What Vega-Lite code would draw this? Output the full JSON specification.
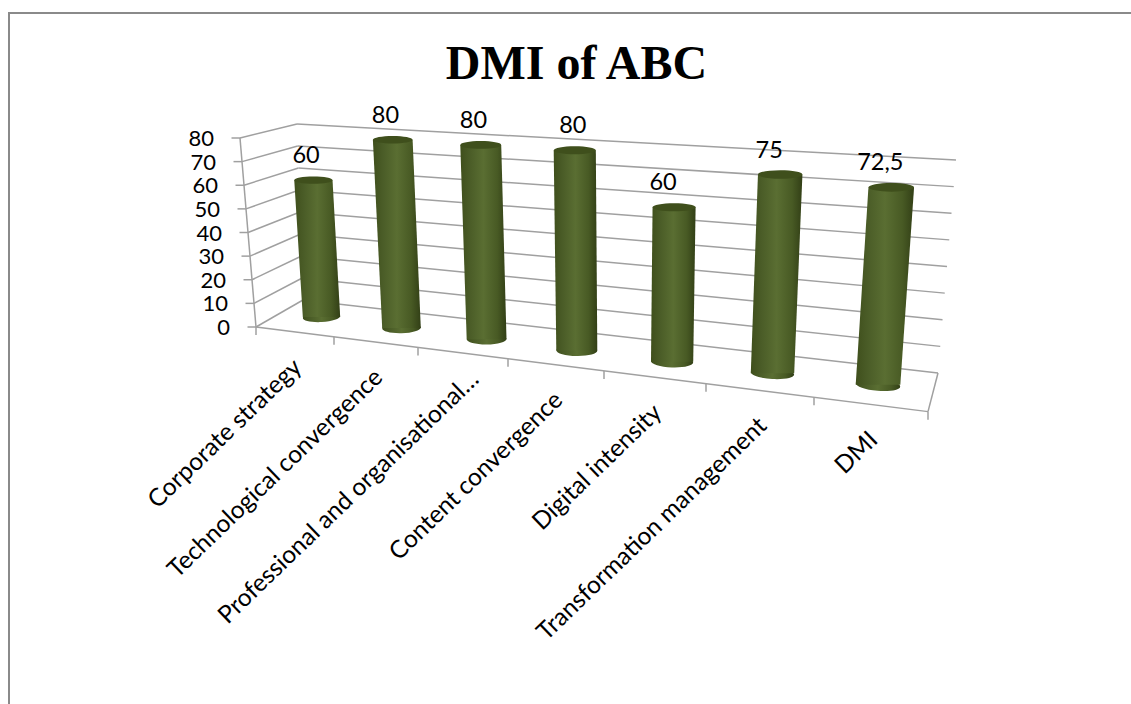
{
"$schema":"https://vega.github.io/schema/vega-lite/v6.json",
"width":1123,"height":692,
"autosize":"none",
"padding":{"left":9,"top":13,"right":0,"bottom":0},
"background":"white",
"config":{"view":{"stroke":"#8a8a8a","strokeWidth":2}},
"title":{"text":"DMI of ABC","font":"Liberation Serif","fontSize":48,"fontWeight":"bold","color":"#000000","anchor":"middle","frame":"group","dy":76,"dx":6,"offset":0},
"datasets":{
"bars":[
{"category":"Corporate strategy","value":60,"label":"60","order":0},
{"category":"Technological convergence","value":80,"label":"80","order":1},
{"category":"Professional and organisational…","value":80,"label":"80","order":2},
{"category":"Content convergence","value":80,"label":"80","order":3},
{"category":"Digital intensity","value":60,"label":"60","order":4},
{"category":"Transformation management","value":75,"label":"75","order":5},
{"category":"DMI","value":72.5,"label":"72,5","order":6}],
"levels":[{"level":0},{"level":10},{"level":20},{"level":30},{"level":40},{"level":50},{"level":60},{"level":70},{"level":80}],
"ticks":[{"tick":0},{"tick":1},{"tick":2},{"tick":3},{"tick":4},{"tick":5},{"tick":6},{"tick":7}]
},
"layer":[
{"data":{"name":"levels"},
 "transform":[{"calculate":"303-0.075*datum.level","as":"ax"},{"calculate":"300-2.2*datum.level","as":"ay"},{"calculate":"938+0.225*datum.level","as":"bx"},{"calculate":"373-2.6625*datum.level","as":"by"}],
 "mark":{"type":"rule","color":"#a0a0a0","strokeWidth":1.5},
 "encoding":{"x":{"field":"ax","type":"quantitative","scale":{"domain":[9,1132],"nice":false,"zero":false},"axis":null},"y":{"field":"ay","type":"quantitative","scale":{"domain":[13,705],"reverse":true,"nice":false,"zero":false},"axis":null},"x2":{"field":"bx"},"y2":{"field":"by"}}},
{"data":{"name":"levels"},
 "transform":[{"calculate":"256-0.2*datum.level","as":"ax"},{"calculate":"327-2.3625*datum.level","as":"ay"},{"calculate":"303-0.075*datum.level","as":"bx"},{"calculate":"300-2.2*datum.level","as":"by"}],
 "mark":{"type":"rule","color":"#a0a0a0","strokeWidth":1.5},
 "encoding":{"x":{"field":"ax","type":"quantitative","axis":null},"y":{"field":"ay","type":"quantitative","axis":null},"x2":{"field":"bx"},"y2":{"field":"by"}}},
{"data":{"name":"levels"},
 "transform":[{"calculate":"256-0.2*datum.level-8.5","as":"ax"},{"calculate":"327-2.3625*datum.level","as":"ay"},{"calculate":"256-0.2*datum.level","as":"bx"}],
 "mark":{"type":"rule","color":"#a0a0a0","strokeWidth":1.5},
 "encoding":{"x":{"field":"ax","type":"quantitative","axis":null},"y":{"field":"ay","type":"quantitative","axis":null},"x2":{"field":"bx"}}},
{"data":{"name":"levels"},
 "transform":[{"filter":"datum.level==80"},{"calculate":"256-0.2*datum.level","as":"ax"},{"calculate":"327-2.3625*datum.level","as":"ay"},{"calculate":"256","as":"bx"},{"calculate":"327","as":"by"}],
 "mark":{"type":"rule","color":"#a0a0a0","strokeWidth":1.5},
 "encoding":{"x":{"field":"ax","type":"quantitative","axis":null},"y":{"field":"ay","type":"quantitative","axis":null},"x2":{"field":"bx"},"y2":{"field":"by"}}},
{"data":{"name":"ticks"},
 "transform":[{"calculate":"256+75*datum.tick+3*datum.tick*datum.tick","as":"ax"},{"calculate":"327+9.5*datum.tick+0.37*datum.tick*datum.tick","as":"ay"},{"calculate":"datum.ay+8","as":"by"}],
 "mark":{"type":"rule","color":"#a0a0a0","strokeWidth":1.5},
 "encoding":{"x":{"field":"ax","type":"quantitative","axis":null},"y":{"field":"ay","type":"quantitative","axis":null},"y2":{"field":"by"}}},
{"data":{"name":"ticks"},
 "transform":[{"filter":"datum.tick==7"},{"calculate":"256+75*datum.tick+3*datum.tick*datum.tick","as":"ax"},{"calculate":"327+9.5*datum.tick+0.37*datum.tick*datum.tick","as":"ay"},{"calculate":"256","as":"bx"},{"calculate":"327","as":"by"}],
 "mark":{"type":"rule","color":"#a0a0a0","strokeWidth":1.5},
 "encoding":{"x":{"field":"ax","type":"quantitative","axis":null},"y":{"field":"ay","type":"quantitative","axis":null},"x2":{"field":"bx"},"y2":{"field":"by"}}},
{"data":{"name":"ticks"},
 "transform":[{"filter":"datum.tick==7"},{"calculate":"256+75*datum.tick+3*datum.tick*datum.tick","as":"ax"},{"calculate":"327+9.5*datum.tick+0.37*datum.tick*datum.tick","as":"ay"},{"calculate":"938","as":"bx"},{"calculate":"373","as":"by"}],
 "mark":{"type":"rule","color":"#a0a0a0","strokeWidth":1.5},
 "encoding":{"x":{"field":"ax","type":"quantitative","axis":null},"y":{"field":"ay","type":"quantitative","axis":null},"x2":{"field":"bx"},"y2":{"field":"by"}}},
{"data":{"name":"levels"},
 "transform":[{"calculate":"256-0.2*datum.level-26","as":"ax"},{"calculate":"328-2.3625*datum.level","as":"ay"}],
 "mark":{"type":"text","font":"Lato","fontSize":22,"align":"right","baseline":"middle","color":"#000000"},
 "encoding":{"x":{"field":"ax","type":"quantitative","axis":null},"y":{"field":"ay","type":"quantitative","axis":null},"text":{"field":"level","type":"quantitative"}}},
{"data":{"name":"bars"},
 "transform":[{"calculate":"321.5+77.45*datum.order+2.55*datum.order*datum.order","as":"cx"},{"calculate":"317+11*datum.order+0.05*datum.order*datum.order","as":"cy"},{"calculate":"pow(2*(18.7+0.6*datum.order),2)","as":"sz"},{"calculate":"-3+1.3*datum.order","as":"tilt"}],
 "mark":{"type":"point","filled":true,"opacity":1,"shape":"M-1,0 A1,0.27 0 1 1 1,0 A1,0.27 0 1 1 -1,0 Z","strokeWidth":0,"color":{"gradient":"linear","x1":0,"x2":1,"y1":0,"y2":0,"stops":[{"offset":0,"color":"#3f4f1c"},{"offset":0.2,"color":"#4a5c27"},{"offset":0.5,"color":"#5a6e32"},{"offset":0.8,"color":"#485a24"},{"offset":1,"color":"#323f16"}]}},
 "encoding":{"x":{"field":"cx","type":"quantitative","axis":null},"y":{"field":"cy","type":"quantitative","axis":null},"size":{"field":"sz","type":"quantitative","scale":null,"legend":null},"angle":{"field":"tilt","type":"quantitative","scale":null,"legend":null}}},
{"data":{"name":"bars"},
 "transform":[{"calculate":"[0,datum.value]","as":"ends"},{"flatten":["ends"],"as":["end"]},{"calculate":"321.5+77.45*datum.order+2.55*datum.order*datum.order+(-0.135+0.02*datum.order+0.0055*datum.order*datum.order)*datum.end","as":"cx"},{"calculate":"317+11*datum.order+0.05*datum.order*datum.order-(2.28+0.074*datum.order)*datum.end","as":"cy"},{"calculate":"18.7+0.6*datum.order+0.007*datum.end","as":"hw"},{"calculate":"datum.cx-datum.hw","as":"xl"},{"calculate":"datum.cx+datum.hw","as":"xr"}],
 "mark":{"type":"area","orient":"horizontal","color":{"gradient":"linear","x1":0,"x2":1,"y1":0,"y2":0,"stops":[{"offset":0,"color":"#3f4f1c"},{"offset":0.2,"color":"#4a5c27"},{"offset":0.5,"color":"#5a6e32"},{"offset":0.8,"color":"#485a24"},{"offset":1,"color":"#323f16"}]}},
 "encoding":{"y":{"field":"cy","type":"quantitative","axis":null},"x":{"field":"xl","type":"quantitative","axis":null},"x2":{"field":"xr"},"detail":{"field":"category"}}},
{"data":{"name":"bars"},
 "transform":[{"calculate":"321.5+77.45*datum.order+2.55*datum.order*datum.order+(-0.135+0.02*datum.order+0.0055*datum.order*datum.order)*datum.value","as":"cx"},{"calculate":"317+11*datum.order+0.05*datum.order*datum.order-(2.28+0.074*datum.order)*datum.value","as":"cy"},{"calculate":"pow(2*(19.2+0.6*datum.order),2)","as":"sz"}],
 "mark":{"type":"point","filled":true,"opacity":1,"color":"#3f4f1c","strokeWidth":0,"shape":"M-1,0 A1,0.19 0 1 1 1,0 A1,0.19 0 1 1 -1,0 Z"},
 "encoding":{"x":{"field":"cx","type":"quantitative","axis":null},"y":{"field":"cy","type":"quantitative","axis":null},"size":{"field":"sz","type":"quantitative","scale":null,"legend":null}}},
{"data":{"name":"bars"},
 "transform":[{"calculate":"321.5+77.45*datum.order+2.55*datum.order*datum.order+(-0.135+0.02*datum.order+0.0055*datum.order*datum.order)*datum.value+(datum.order<3?-7.3:datum.order==3?-2:-11)","as":"cx"},{"calculate":"317+11*datum.order+0.05*datum.order*datum.order-(2.28+0.074*datum.order)*datum.value-24","as":"cy"}],
 "mark":{"type":"text","font":"Lato","fontSize":23.5,"align":"center","baseline":"middle","color":"#000000"},
 "encoding":{"x":{"field":"cx","type":"quantitative","axis":null},"y":{"field":"cy","type":"quantitative","axis":null},"text":{"field":"label","type":"nominal"}}},
{"data":{"name":"bars"},
 "transform":[{"calculate":"256+75*(datum.order+0.5)+3*(datum.order+0.5)*(datum.order+0.5)+4+(datum.order==2?9:0)","as":"cx"},{"calculate":"327+9.5*(datum.order+0.5)+0.37*(datum.order+0.5)*(datum.order+0.5)+32-(datum.order==2?9:0)","as":"cy"}],
 "mark":{"type":"text","font":"Lato","fontSize":24.5,"align":"right","baseline":"middle","angle":-44,"color":"#000000"},
 "encoding":{"x":{"field":"cx","type":"quantitative","axis":null},"y":{"field":"cy","type":"quantitative","axis":null},"text":{"field":"category","type":"nominal"}}}
]
}
